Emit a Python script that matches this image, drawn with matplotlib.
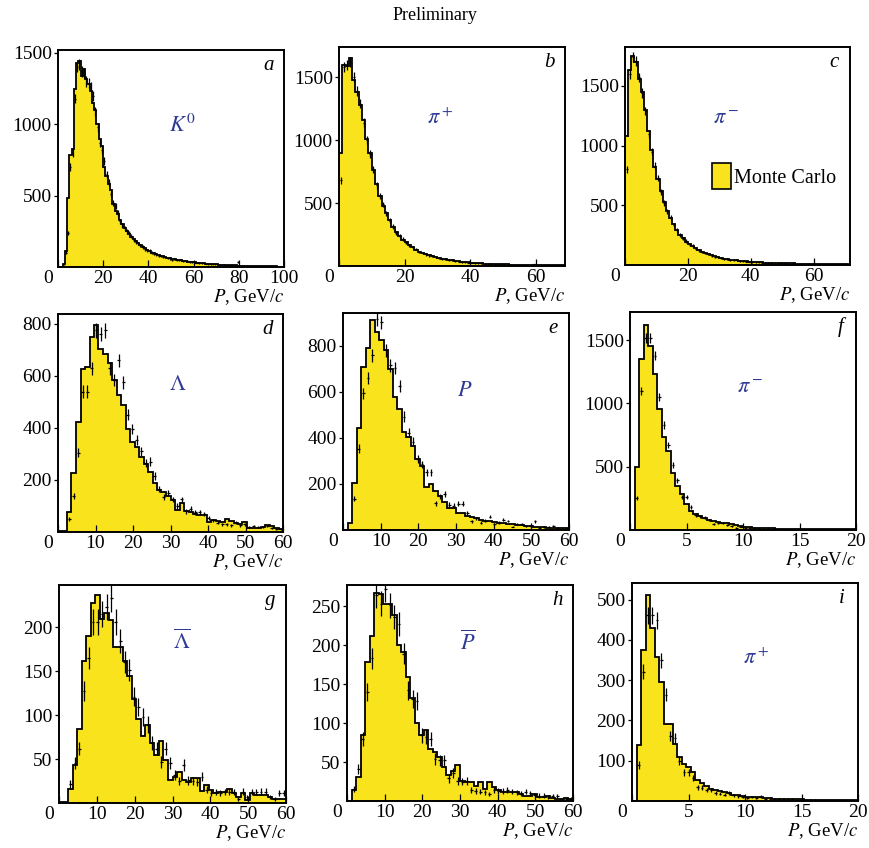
import numpy as np
import matplotlib
matplotlib.use("Agg")
import matplotlib.pyplot as plt
from matplotlib.transforms import ScaledTranslation

plt.rcParams["font.family"] = "serif"
plt.rcParams["font.serif"] = ["Liberation Serif", "DejaVu Serif"]
plt.rcParams["mathtext.fontset"] = "stix"

FILL = "#f8e31c"
LABEL_BLUE = "#2e3a96"

# a: K0, 1 GeV bins, 0-100
K0_MC = [0, 0, 20, 115, 485, 785, 830, 1250, 1430, 1440,
         1340, 1390, 1320, 1280, 1230, 1150, 1100, 1000, 900, 850,
         700, 640, 580, 540, 440, 390, 370, 330, 300, 275,
         250, 230, 210, 195, 180, 165, 155, 140, 130, 120,
         110, 100, 95, 88, 82, 78, 74, 70, 66, 62,
         58, 55, 52, 49, 46, 44, 41, 38, 36, 34,
         32, 30, 28, 27, 25, 24, 22, 21, 20, 19,
         18, 17, 16, 15, 14, 13, 12, 12, 11, 10,
         10, 9, 9, 8, 8, 7, 7, 6, 6, 6,
         5, 5, 5, 4, 4, 4, 4, 3, 3, 3]
K0_DATA = [0, 0, 10, 100, 240, 700, 800, 1180, 1400, 1420,
           1370, 1360, 1300, 1290, 1260, 1200, 1090, 980, 870, 820,
           740, 650, 590, 510, 450, 430, 380, 320, 290, 270,
           250, 240, 215, 190, 175, 165, 150, 140, 125, 118,
           112, 100, 92, 90, 80, 76, 72, 68, 64, 60,
           48, 56, 50, 47, 46, 42, 40, 39, 35, 33,
           31, 30, 27, 26, 25, 23, 22, 21, 19, 18,
           17, 17, 15, 15, 13, 13, 12, 11, 11, 35,
           10, 9, 8, 8, 7, 7, 7, 6, 6, 5,
           5, 5, 4, 4, 4, 4, 3, 3, 3, 3]

# b: pi+, 1 GeV bins, 0-69
PIP_MC = [900, 1600, 1590, 1650, 1480, 1380, 1280, 1160, 1010, 900,
          760, 650, 560, 480, 425, 365, 310, 270, 235, 210,
          190, 170, 150, 130, 115, 105, 95, 85, 77, 70,
          63, 57, 52, 48, 44, 40, 36, 33, 30, 28,
          26, 24, 22, 20, 19, 18, 17, 16, 15, 14,
          13, 12, 11, 11, 10, 10, 9, 9, 8, 8,
          7, 7, 6, 6, 6, 5, 5, 5, 4]
PIP_DATA = [680, 1580, 1600, 1620, 1500, 1390, 1290, 1140, 1000, 890,
            770, 640, 555, 490, 420, 360, 315, 265, 240, 215,
            185, 165, 150, 135, 112, 103, 93, 84, 78, 68,
            62, 58, 53, 46, 45, 41, 35, 33, 31, 27,
            25, 24, 21, 20, 18, 18, 16, 15, 15, 13,
            12, 12, 11, 10, 10, 9, 9, 8, 8, 14,
            7, 6, 6, 6, 5, 5, 5, 4, 4]

# c: pi-, 1 GeV bins, 0-71
PIM_MC = [1080, 1630, 1750, 1700, 1560, 1450, 1300, 1120, 960, 820,
          720, 620, 530, 455, 390, 340, 295, 255, 225, 195,
          175, 158, 140, 125, 112, 100, 90, 80, 72, 65,
          59, 54, 49, 45, 41, 38, 35, 32, 30, 28,
          26, 24, 22, 21, 20, 19, 18, 17, 16, 15,
          14, 14, 13, 13, 12, 12, 11, 11, 10, 10,
          9, 9, 8, 8, 8, 7, 7, 7, 6, 6, 6]
PIM_DATA = [800, 1600, 1740, 1710, 1570, 1440, 1290, 1100, 950, 830,
            730, 610, 520, 450, 395, 335, 290, 250, 220, 200,
            170, 160, 138, 122, 110, 98, 91, 78, 70, 66,
            58, 53, 50, 44, 40, 38, 34, 32, 29, 28,
            25, 24, 22, 20, 20, 18, 18, 16, 16, 15,
            13, 14, 12, 13, 11, 12, 11, 10, 10, 9,
            9, 8, 8, 7, 8, 7, 6, 7, 6, 5, 5]

# d: Lambda, 1.2 GeV bins, 0-60
LAM_MC = [3, 5, 78, 225, 423, 627, 633, 750, 796, 703,
          684, 648, 586, 527, 489, 397, 347, 327, 290, 262,
          229, 187, 162, 155, 140, 124, 85, 111, 80, 78,
          68, 66, 64, 38, 45, 42, 40, 50, 44, 34,
          32, 40, 15, 16, 17, 20, 25, 22, 14, 11]
LAM_DATA = [0, 0, 50, 140, 305, 540, 540, 630, 775, 760,
            775, 630, 585, 660, 575, 450, 395, 355, 310, 265,
            270, 215, 165, 135, 150, 125, 100, 125, 80, 90,
            75, 75, 70, 55, 45, 35, 30, 30, 25, 35,
            25, 30, 20, 22, 20, 18, 22, 15, 12, 10]

# e: P, 1.2 GeV bins, 0-60
P_MC = [0, 32, 204, 445, 708, 791, 912, 861, 825, 781,
        700, 577, 526, 426, 406, 365, 307, 277, 185, 200,
        171, 146, 120, 95, 95, 73, 73, 61, 55, 51,
        44, 40, 37, 33, 31, 29, 27, 25, 22, 20,
        19, 19, 15, 13, 12, 10, 10, 9, 8, 7]
P_DATA = [0, 0, 136, 353, 594, 661, 759, 917, 902, 781,
          715, 704, 625, 493, 423, 383, 310, 285, 251, 251,
          117, 146, 156, 110, 105, 114, 114, 73, 37, 51,
          32, 41, 58, 26, 32, 44, 39, 15, 26, 26,
          18, 18, 37, 10, 12, 15, 18, 10, 6, 7]

# f: pi-, 0.4 GeV bins, 0-20
PIM2_MC = [0, 500, 1352, 1619, 1450, 1230, 958, 738, 622, 453,
           350, 285, 207, 150, 130, 109, 95, 82, 72, 65,
           58, 52, 45, 38, 30, 24, 21, 19, 16, 15,
           13, 12, 11, 10, 10, 9, 8, 8, 7, 7,
           6, 6, 6, 5, 5, 5, 4, 4, 4, 4]
PIM2_DATA = [0, 254, 1100, 1520, 1520, 1378, 1049, 829, 673, 513,
             394, 259, 259, 181, 117, 109, 98, 78, 47, 57,
             57, 39, 31, 18, 26, 18, 16, 16, 12, 10,
             12, 9, 8, 9, 7, 6, 8, 6, 5, 6,
             5, 4, 5, 4, 3, 4, 3, 3, 3, 2]

# g: anti-Lambda, 1.2 GeV bins, 0-60
ALAM_MC = [1, 1, 16, 43, 84, 161, 190, 227, 237, 209,
           216, 208, 177, 177, 161, 144, 118, 95, 76, 89,
           68, 55, 70, 49, 26, 30, 35, 26, 24, 28,
           28, 14, 21, 15, 11, 13, 13, 16, 11, 7,
           11, 3, 11, 9, 9, 9, 7, 5, 4, 4]
ALAM_DATA = [0, 0, 22, 46, 62, 127, 165, 206, 206, 215,
             223, 233, 206, 184, 160, 151, 121, 109, 98, 89,
             68, 62, 47, 62, 46, 32, 25, 43, 26, 25,
             24, 30, 15, 11, 12, 11, 12, 13, 12, 5,
             13, 7, 12, 12, 13, 13, 7, 5, 11, 11]

# h: anti-P, 1.2 GeV bins, 0-60
AP_MC = [0, 14, 31, 84, 178, 211, 267, 266, 252, 252,
         238, 200, 191, 159, 132, 100, 85, 91, 67, 63,
         56, 43, 33, 39, 46, 26, 24, 24, 19, 25,
         16, 24, 18, 14, 12, 12, 12, 11, 9, 7,
         6, 9, 5, 5, 6, 4, 3, 3, 4, 3]
AP_DATA = [0, 15, 41, 79, 140, 183, 264, 253, 272, 251,
           236, 227, 189, 142, 131, 128, 84, 82, 79, 54,
           52, 52, 29, 36, 26, 25, 26, 14, 13, 12,
           11, 9, 14, 13, 13, 14, 12, 11, 10, 12,
           10, 8, 7, 7, 5, 6, 6, 2, 3, 3]

# i: pi+, 0.4 GeV bins, 0-20
PIP2_MC = [0, 139, 375, 512, 430, 358, 295, 192, 192, 141,
           110, 92, 84, 71, 52, 45, 36, 30, 27, 25,
           22, 19, 16, 14, 12, 11, 10, 9, 9, 8,
           7, 6, 6, 5, 5, 4, 4, 4, 3, 3,
           3, 3, 2, 2, 2, 2, 2, 2, 2, 2]
PIP2_DATA = [0, 90, 321, 461, 461, 449, 349, 264, 162, 156,
             100, 71, 71, 57, 34, 33, 28, 28, 20, 18,
             16, 20, 14, 12, 10, 8, 10, 8, 11, 6,
             6, 5, 5, 4, 4, 4, 3, 3, 3, 3,
             3, 2, 2, 2, 2, 2, 2, 2, 1, 1]

PANELS = [
    ("a", r"$K^0$", K0_MC, K0_DATA, 100, 100, 1520, [500, 1000, 1500], [0, 20, 40, 60, 80, 100]),
    ("b", r"$\pi^+$", PIP_MC, PIP_DATA, 69, 69, 1740, [500, 1000, 1500], [0, 20, 40, 60]),
    ("c", r"$\pi^-$", PIM_MC, PIM_DATA, 71, 71.5, 1825, [500, 1000, 1500], [0, 20, 40, 60]),
    ("d", r"$\Lambda$", LAM_MC, LAM_DATA, 60, 60, 838, [200, 400, 600, 800], [0, 10, 20, 30, 40, 50, 60]),
    ("e", r"$P$", P_MC, P_DATA, 60, 60, 943, [200, 400, 600, 800], [0, 10, 20, 30, 40, 50, 60]),
    ("f", r"$\pi^-$", PIM2_MC, PIM2_DATA, 20, 20, 1722, [500, 1000, 1500], [0, 5, 10, 15, 20]),
    ("g", r"$\overline{\Lambda}$", ALAM_MC, ALAM_DATA, 60, 60, 248, [50, 100, 150, 200], [0, 10, 20, 30, 40, 50, 60]),
    ("h", r"$\overline{P}$", AP_MC, AP_DATA, 60, 60, 277, [50, 100, 150, 200, 250], [0, 10, 20, 30, 40, 50, 60]),
    ("i", r"$\pi^+$", PIP2_MC, PIP2_DATA, 20, 20, 541, [100, 200, 300, 400, 500], [0, 5, 10, 15, 20]),
]

# axes boxes in pixels (left, top, right, bottom) on the 869x848 canvas
BOXES = [
    (58, 50, 284, 267), (339, 47, 565, 266), (625, 47, 850, 265),
    (58, 314, 283, 532), (343, 313, 569, 530), (630, 312, 856, 530),
    (59, 585, 286, 803), (347, 585, 573, 801), (632, 583, 858, 801),
]
LABEL_POS = [(0.55, 0.65), (0.45, 0.67), (0.45, 0.67),
             (0.53, 0.67), (0.54, 0.64), (0.53, 0.65),
             (0.54, 0.74), (0.535, 0.73), (0.55, 0.65)]

W, H = 869, 848
fig = plt.figure(figsize=(W / 100, H / 100), dpi=100)
fig.text(0.5, 1 - 15 / H, "Preliminary", ha="center", va="center", fontsize=13)

for (letter, name, mc, data, hi, xmax, ymax, yticks, xticks), box, lpos in zip(PANELS, BOXES, LABEL_POS):
    l, t, r, b = box
    ax = fig.add_axes([l / W, 1 - b / H, (r - l) / W, (b - t) / H])
    mc = np.asarray(mc, dtype=float)
    data = np.asarray(data, dtype=float)
    edges = np.linspace(0, hi, len(mc) + 1)
    width = edges[1] - edges[0]
    centers = 0.5 * (edges[:-1] + edges[1:])
    ax.stairs(mc, edges, fill=True, color=FILL, lw=0, label="Monte Carlo")
    ax.stairs(mc, edges, color="black", lw=1.3)
    keep = data > 0
    ax.errorbar(centers[keep], data[keep], xerr=0.3 * width, yerr=np.sqrt(data[keep]),
                fmt="none", ecolor="black", elinewidth=0.9, capsize=0)
    ax.set_xlim(0, xmax)
    ax.set_ylim(0, ymax)
    ax.set_xticks(xticks)
    ax.set_yticks(yticks)
    ax.tick_params(axis="x", direction="in", length=5, width=0.9, labelsize=14, pad=2)
    ax.tick_params(axis="y", direction="out", length=3, width=0.9, labelsize=14, pad=1.5)
    for sp in ax.spines.values():
        sp.set_linewidth(1.4)
    zero = ax.get_xticklabels()[0]
    zero.set_transform(zero.get_transform() + ScaledTranslation(-7 / 72, 0, fig.dpi_scale_trans))
    ax.set_xlabel(r"$P$, GeV/$c$", loc="right", fontsize=13.5, labelpad=0)
    ax.text(0.93, 0.93, letter, transform=ax.transAxes, ha="center", va="center",
            fontsize=15, style="italic")
    ax.text(lpos[0], lpos[1], name, transform=ax.transAxes, ha="center", va="center",
            fontsize=16, color=LABEL_BLUE)
    if letter == "c":
        leg = ax.legend(loc="center left", bbox_to_anchor=(0.343, 0.408), frameon=False,
                        borderpad=0, handlelength=0.95, handleheight=1.65,
                        handletextpad=0.15, fontsize=14.5)
        for patch in leg.get_patches():
            patch.set_edgecolor("black")
            patch.set_linewidth(1.2)

fig.savefig("out.png", dpi=100)
